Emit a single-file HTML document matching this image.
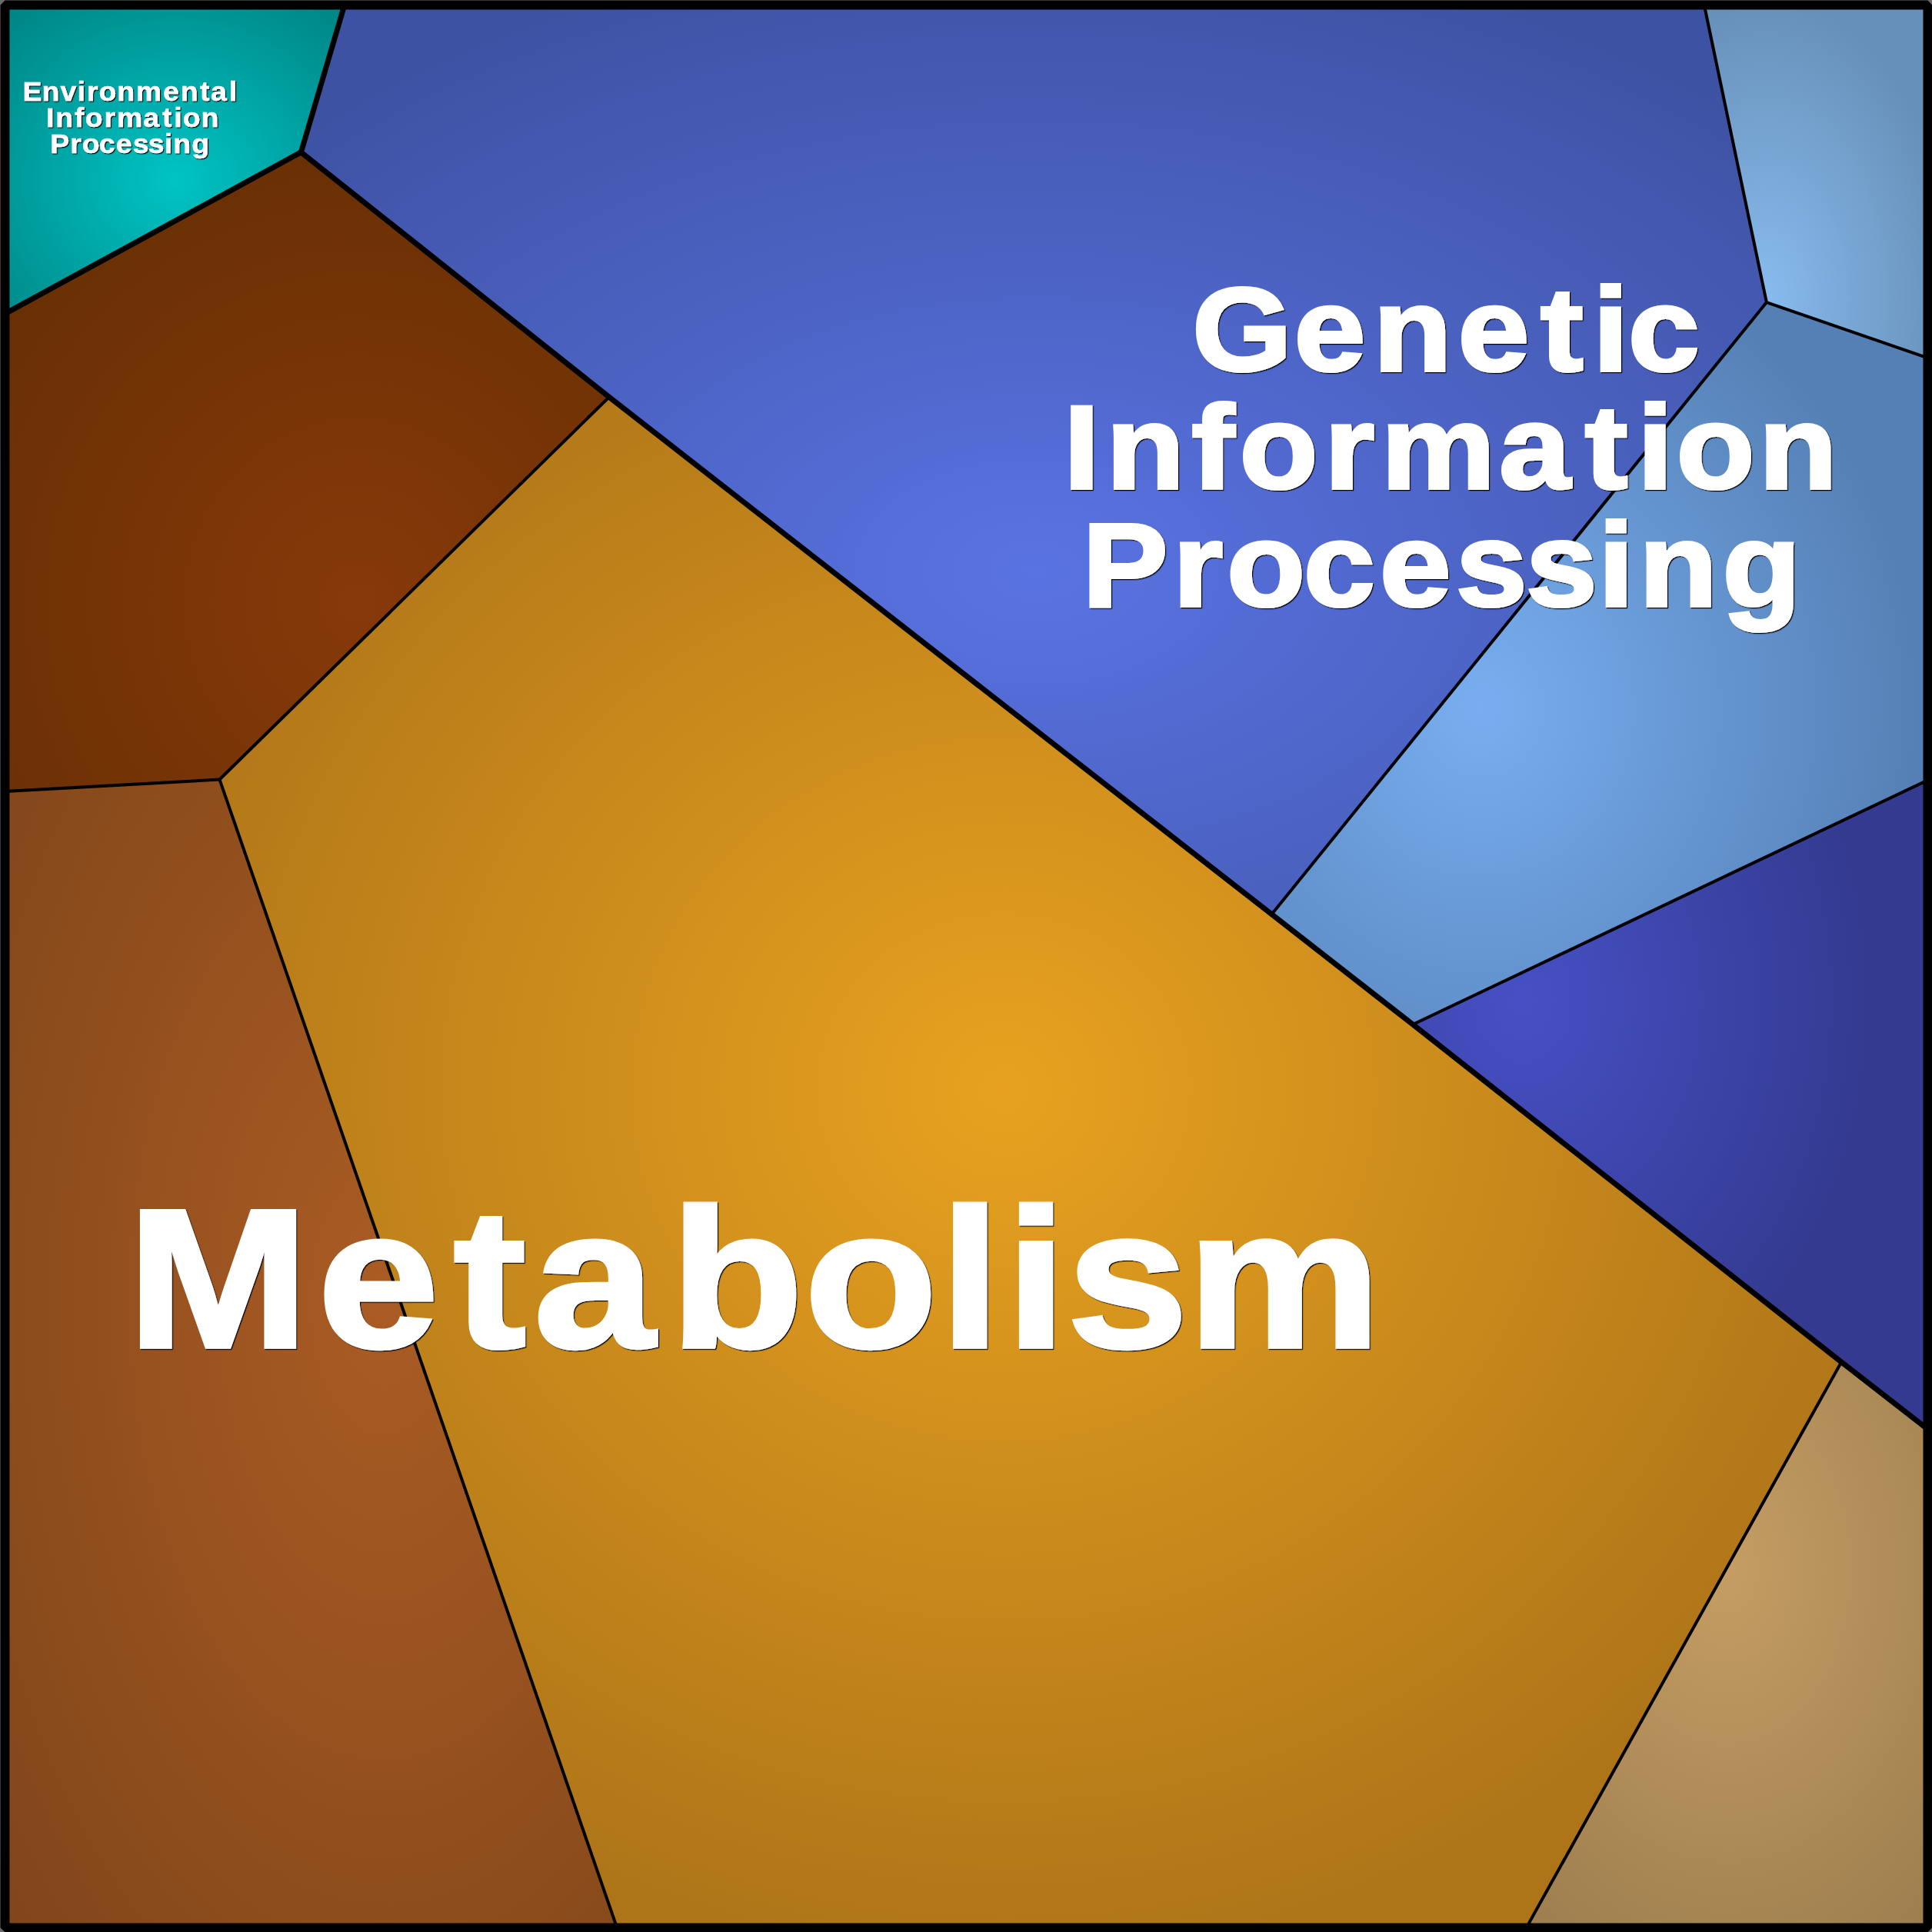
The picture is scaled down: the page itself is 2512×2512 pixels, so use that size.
<!DOCTYPE html>
<html><head><meta charset="utf-8"><title>Voronoi treemap</title>
<style>
html,body{margin:0;padding:0;background:#6b6b6b;}
svg{display:block;}
.thin{fill:none;stroke:#000;stroke-width:4;stroke-linejoin:miter;}
.thick{fill:none;stroke:#000;stroke-width:7;stroke-linejoin:miter;}
text{font-family:"Liberation Sans",sans-serif;font-weight:bold;fill:#fff;stroke:#fff;stroke-linejoin:miter;stroke-miterlimit:3;}
</style></head><body>
<svg width="2512" height="2512" viewBox="0 0 2512 2512">
<defs>
<radialGradient id="g_teal" gradientUnits="userSpaceOnUse" cx="0" cy="0" r="315.0" gradientTransform="translate(228.0 234.0) scale(1 0.909)"><stop offset="0" stop-color="#00c4c4"/><stop offset="1" stop-color="#008686"/></radialGradient>
<radialGradient id="g_dbrown" gradientUnits="userSpaceOnUse" cx="0" cy="0" r="583.0" gradientTransform="translate(466.0 784.0) scale(1 1.058)"><stop offset="0" stop-color="#87390a"/><stop offset="1" stop-color="#683003"/></radialGradient>
<radialGradient id="g_lbrown" gradientUnits="userSpaceOnUse" cx="0" cy="0" r="690.0" gradientTransform="translate(500.0 1690.0) scale(1 1.800)"><stop offset="0" stop-color="#aa5c24"/><stop offset="1" stop-color="#7f4519"/></radialGradient>
<radialGradient id="g_gold" gradientUnits="userSpaceOnUse" cx="0" cy="0" r="1230.0" gradientTransform="translate(1305.0 1416.0) scale(1 0.944)"><stop offset="0" stop-color="#e8a220"/><stop offset="1" stop-color="#ad7418"/></radialGradient>
<radialGradient id="g_tan" gradientUnits="userSpaceOnUse" cx="0" cy="0" r="430.0" gradientTransform="translate(2245.0 2040.0) scale(1 1.410)"><stop offset="0" stop-color="#c49d63"/><stop offset="1" stop-color="#9c7d4e"/></radialGradient>
<radialGradient id="g_blue" gradientUnits="userSpaceOnUse" cx="0" cy="0" r="1350.0" gradientTransform="translate(1347.0 743.0) scale(1 0.620)"><stop offset="0" stop-color="#5973e2"/><stop offset="1" stop-color="#3e52a3"/></radialGradient>
<radialGradient id="g_steel" gradientUnits="userSpaceOnUse" cx="0" cy="0" r="245.0" gradientTransform="translate(2295.0 385.0) scale(1 1.579)"><stop offset="0" stop-color="#88bbee"/><stop offset="1" stop-color="#6790b8"/></radialGradient>
<radialGradient id="g_mblue" gradientUnits="userSpaceOnUse" cx="0" cy="0" r="572.0" gradientTransform="translate(1925.0 920.0) scale(1 1.100)"><stop offset="0" stop-color="#78aef0"/><stop offset="1" stop-color="#5580b5"/></radialGradient>
<radialGradient id="g_dkblue" gradientUnits="userSpaceOnUse" cx="0" cy="0" r="463.0" gradientTransform="translate(1980.0 1300.0) scale(1 1.260)"><stop offset="0" stop-color="#4650c4"/><stop offset="1" stop-color="#333a8f"/></radialGradient>
<filter id="sh" x="-5%" y="-5%" width="110%" height="110%"><feDropShadow dx="1.2" dy="1.2" stdDeviation="0.5" flood-color="#000" flood-opacity="1"/></filter>
</defs>
<polygon points="6.5,6.5 447.9,6.5 391.4,197.9 6.5,407.9" fill="url(#g_teal)"/>
<polygon points="6.5,407.9 391.4,197.9 792.0,516.2 285.5,1013.5 6.5,1029.1" fill="url(#g_dbrown)"/>
<polygon points="6.5,1029.1 285.5,1013.5 802.2,2506.4 6.5,2506.4" fill="url(#g_lbrown)"/>
<polygon points="285.5,1013.5 792.0,516.2 1653.5,1188.8 1837.0,1332.0 2394.2,1770.9 1984.6,2506.4 802.2,2506.4" fill="url(#g_gold)"/>
<polygon points="2394.2,1770.9 2506.4,1858.3 2506.4,2506.4 1984.6,2506.4" fill="url(#g_tan)"/>
<polygon points="447.9,6.5 2215.8,6.5 2296.9,393.1 1653.5,1188.8 792.0,516.2 391.4,197.9" fill="url(#g_blue)"/>
<polygon points="2215.8,6.5 2506.4,6.5 2506.4,465.3 2296.9,393.1" fill="url(#g_steel)"/>
<polygon points="2296.9,393.1 2506.4,465.3 2506.4,1014.4 1837.0,1332.0 1653.5,1188.8" fill="url(#g_mblue)"/>
<polygon points="1837.0,1332.0 2506.4,1014.4 2506.4,1858.3 2394.2,1770.9" fill="url(#g_dkblue)"/>
<polyline points="792.0,516.2 285.5,1013.5" class="thin"/>
<polyline points="285.5,1013.5 6.5,1029.1" class="thin"/>
<polyline points="285.5,1013.5 802.2,2506.4" class="thin"/>
<polyline points="1653.5,1188.8 2296.9,393.1" class="thin"/>
<polyline points="2296.9,393.1 2215.8,6.5" class="thin"/>
<polyline points="2296.9,393.1 2506.4,465.3" class="thin"/>
<polyline points="1837.0,1332.0 2506.4,1014.4" class="thin"/>
<polyline points="2394.2,1770.9 1984.6,2506.4" class="thin"/>
<polyline points="447.9,6.5 391.4,197.9" class="thick"/>
<polyline points="391.4,197.9 6.5,407.9" class="thick"/>
<polyline points="391.4,197.9 792.0,516.2 1653.5,1188.8 1837.0,1332.0 2394.2,1770.9 2506.4,1858.3" class="thick"/>
<rect x="6.5" y="6.5" width="2499.9" height="2499.9" fill="none" stroke="#000" stroke-width="11.9" stroke-linejoin="bevel"/>
<g filter="url(#sh)"><g class="lbl"><text transform="translate(0 131.1) scale(1.060 1)" x="27.8 51.3 74.1 94.9 106.7 121.2 143.6 166.7 200.0 221.4 245.2 258.6 281.0" font-size="35.3" stroke-width="0.5">Environmental</text><text transform="translate(0 165.3) scale(1.060 1)" x="56.5 68.1 91.5 104.6 127.9 143.3 175.6 199.1 213.5 224.2 246.7" font-size="35.3" stroke-width="0.5">Information</text><text transform="translate(0 198.7) scale(1.060 1)" x="61.5 86.1 100.7 121.5 142.2 162.9 181.9 201.6 212.6 235.2" font-size="35.3" stroke-width="0.5">Processing</text></g>
<g class="lbl"><text transform="translate(0 481.6) scale(1.080 1)" x="1435.5 1558.2 1653.5 1755.4 1854.6 1917.8 1960.2" font-size="154.0" stroke-width="4.0">Genetic</text><text transform="translate(0 634.6) scale(1.080 1)" x="1280.7 1331.9 1434.8 1492.3 1594.7 1663.0 1804.8 1908.2 1971.3 2018.4 2117.5" font-size="154.0" stroke-width="4.0">Information</text><text transform="translate(0 788.4) scale(1.080 1)" x="1303.3 1412.3 1477.0 1569.4 1661.1 1752.7 1837.0 1924.2 1973.3 2073.5" font-size="154.0" stroke-width="4.0">Processing</text></g>
<g class="lbl"><text transform="translate(0 1751.2) scale(1.100 1)" x="150.7 375.6 536.1 631.1 792.3 950.8 1111.0 1189.0 1261.2 1403.5" font-size="257.0" stroke-width="5.0">Metabolism</text></g></g>
</svg>
</body></html>
